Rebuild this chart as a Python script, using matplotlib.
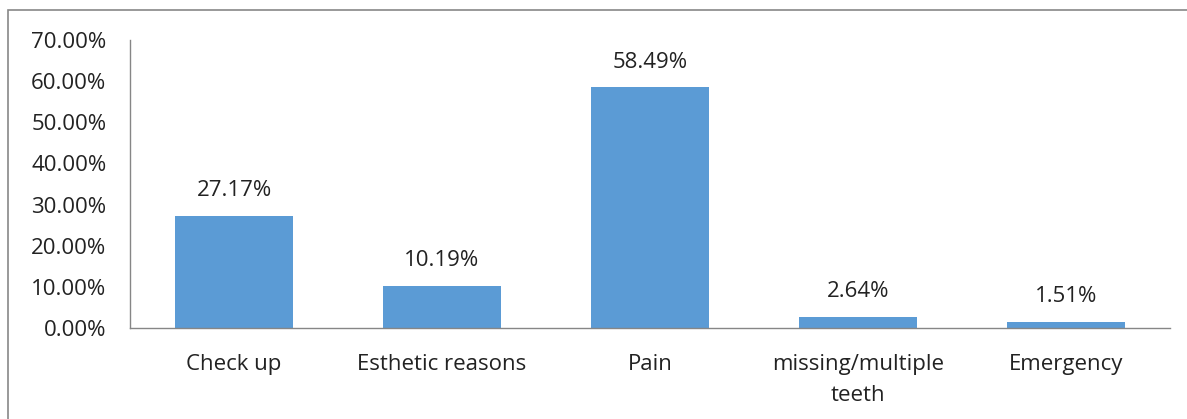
import matplotlib
matplotlib.use("Agg")
import matplotlib.pyplot as plt
from matplotlib.patches import Rectangle

categories = ["Check up", "Esthetic reasons", "Pain", "missing/multiple\nteeth", "Emergency"]
values = [27.17, 10.19, 58.49, 2.64, 1.51]
yticks = [0, 10, 20, 30, 40, 50, 60, 70]

plt.rcParams['font.family'] = ['Open Sans', 'DejaVu Sans']

fig = plt.figure(figsize=(11.87, 4.19), dpi=100)
ax = fig.add_axes([130/1187, 91/419, 1040/1187, 288/419])

fs = 16
x = range(len(categories))
bars = ax.bar(x, values, width=0.57, color="#5B9BD5")
for xi, v in zip(x, values):
    ax.text(xi, v + 3.6, f"{v:.2f}%", ha="center", va="bottom", fontsize=fs, color="#222222")

ax.set_xlim(-0.5, len(categories) - 0.5)
ax.set_ylim(0, 70)
ax.set_yticks(yticks)
ax.set_yticklabels([f"{t:.2f}%" for t in yticks], fontsize=fs, color="#222222")
ax.set_xticks(list(x))
ax.set_xticklabels(categories, fontsize=fs, color="#222222", linespacing=1.6)
ax.tick_params(axis="both", length=0)
ax.tick_params(axis="y", pad=17)
ax.tick_params(axis="x", pad=19)
for s in ["top", "right"]:
    ax.spines[s].set_visible(False)
for s in ["left", "bottom"]:
    ax.spines[s].set_color("#868686")
    ax.spines[s].set_linewidth(1.0)

fig.patches.append(Rectangle((8/1187, -0.1), 1.2, (419 - 10)/419 + 0.1, transform=fig.transFigure,
                             fill=False, edgecolor="#888888", linewidth=1.2))

fig.savefig("out.png", dpi=100)
